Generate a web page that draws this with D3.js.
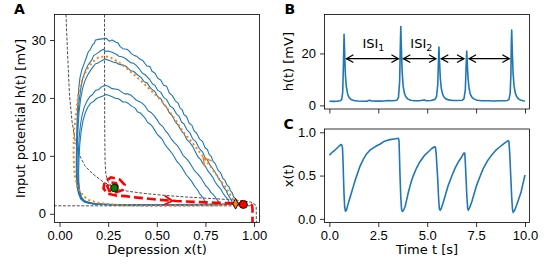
<!DOCTYPE html>
<html>
<head>
<meta charset="utf-8">
<script src="https://cdn.jsdelivr.net/npm/d3@7"></script>
<style>
  body { margin: 0; background: #fff; }
  svg { font-family: "DejaVu Sans", sans-serif; }
  .tick text { font-size: 13px; fill: #000; }
  .tick line { stroke: #000; stroke-width: 0.8; }
</style>
</head>
<body>
<div id="fig"></div>
<script>
// ---- data ----

// panel A: nullclines (dashed)
var nullHyper = [[0.033,34.4],[0.04,28.5],[0.051,20.5],[0.064,16],[0.08,12.6],[0.1,10.3],[0.13,8.3],
  [0.17,6.9],[0.217,5.7],[0.282,4.45],[0.35,3.9],[0.44,3.5],[0.55,3.15],[0.65,2.9],[0.75,2.7],
  [0.85,2.5],[0.93,2.3],[0.98,2.05],[1.003,1.7],[1.011,1.2],[1.012,-1.5]];
var nullVert = [[0.231,34.4],[0.232,15],[0.234,9],[0.238,6.8],[0.25,5.5],[0.265,4.9],[0.282,4.45]];
var nullFlat = [[-0.03,1.38],[0.3,1.38],[0.6,1.38],[0.985,1.38]];

// panel A: stochastic loops (one per spike)
var loop1 = [[0.917,1.7],[0.91,2.1],[0.903,2.7],[0.895,2.9],[0.888,3.6],[0.878,4.0],[0.872,4.6],
  [0.862,4.9],[0.85,5.8],[0.84,6.1],[0.828,7.1],[0.815,7.5],[0.8,8.7],[0.79,9.0],[0.78,9.9],[0.77,10.2],
  [0.76,11.1],[0.748,11.4],[0.735,12.5],[0.72,12.9],[0.705,13.9],[0.692,14.3],[0.68,15.3],[0.667,15.6],
  [0.653,16.8],[0.64,17.1],[0.63,18.0],[0.62,18.2],[0.61,19.1],[0.595,19.5],[0.58,20.4],[0.565,20.8],
  [0.551,22.0],[0.535,22.2],[0.52,23.1],[0.505,23.4],[0.49,24.3],[0.475,24.6],[0.465,25.4],[0.45,25.5],
  [0.44,25.9],[0.43,26.4],[0.42,26.6],[0.405,26.9],[0.397,27.2],[0.385,27.3],[0.37,27.6],[0.355,28.2],
  [0.345,28.4],[0.325,28.5],[0.311,28.9],[0.3,29.5],[0.29,29.6],[0.27,30.0],[0.255,29.8],[0.24,30.3],
  [0.22,30.2],[0.2,30.1],[0.185,30.0],[0.178,29.4],[0.17,29.2],[0.155,28.2],[0.148,28.0],[0.14,27.2],
  [0.125,25.8],[0.115,24.9],[0.105,23.5],[0.098,21.5],[0.093,18.5],[0.089,15],[0.087,11.5],[0.086,8.5],
  [0.087,6.2],[0.091,4.5],[0.098,3.4],[0.11,2.5],[0.13,2.0],[0.17,1.7],[0.25,1.55],[0.4,1.5],
  [0.6,1.52],[0.8,1.58],[0.917,1.7]];
var loop2 = [[0.892,1.7],[0.883,2.3],[0.875,2.8],[0.866,3.3],[0.855,4.1],[0.843,4.6],[0.83,5.6],
  [0.82,5.9],[0.81,6.6],[0.797,7.3],[0.785,7.9],[0.772,8.5],[0.76,9.3],[0.748,9.7],[0.735,10.7],
  [0.718,11.3],[0.7,12.5],[0.685,12.9],[0.67,14.0],[0.655,14.5],[0.64,15.5],[0.628,15.8],[0.615,16.8],
  [0.6,17.3],[0.585,18.2],[0.568,18.6],[0.551,19.7],[0.535,20.1],[0.52,21.0],[0.505,21.3],[0.49,22.2],
  [0.478,22.4],[0.465,23.1],[0.452,23.6],[0.44,24.0],[0.425,24.3],[0.41,25.0],[0.395,25.6],[0.38,26.0],
  [0.365,26.1],[0.35,26.5],[0.335,26.9],[0.32,27.1],[0.305,27.2],[0.294,27.5],[0.27,27.9],[0.25,28.1],
  [0.238,28.0],[0.226,28.4],[0.205,28.0],[0.19,27.6],[0.175,27.3],[0.168,26.7],[0.16,26.3],[0.145,25.6],
  [0.13,24.5],[0.118,23.2],[0.108,21.4],[0.1,19.2],[0.094,16.5],[0.09,13.2],[0.088,10],[0.088,7.2],
  [0.091,5.1],[0.098,3.6],[0.11,2.6],[0.135,1.95],[0.18,1.7],[0.3,1.58],[0.5,1.52],[0.7,1.55],[0.892,1.7]];
var loop3 = [[0.876,1.7],[0.868,2.3],[0.86,2.7],[0.85,3.1],[0.84,3.6],[0.83,4.2],[0.82,4.6],[0.81,5.0],
  [0.8,5.5],[0.788,6.3],[0.775,6.9],[0.763,7.4],[0.75,8.2],[0.738,8.6],[0.725,9.4],[0.712,9.8],
  [0.7,10.6],[0.685,11.6],[0.67,12.3],[0.655,12.8],[0.64,13.8],[0.625,14.4],[0.61,15.3],[0.595,15.9],
  [0.58,16.9],[0.565,17.4],[0.55,18.4],[0.535,18.9],[0.52,19.9],[0.505,20.2],[0.49,21.1],[0.47,21.6],
  [0.45,22.6],[0.435,22.8],[0.42,23.5],[0.4,24.0],[0.38,24.6],[0.365,24.7],[0.35,25.2],[0.335,25.6],
  [0.32,25.7],[0.305,25.8],[0.29,26.1],[0.275,26.2],[0.26,26.4],[0.235,26.7],[0.215,26.4],[0.195,26.0],
  [0.185,25.9],[0.175,25.5],[0.16,24.8],[0.145,24.0],[0.13,22.9],[0.118,21.6],[0.108,19.8],[0.1,17.5],
  [0.095,14.8],[0.091,11.8],[0.09,8.8],[0.091,6.2],[0.095,4.4],[0.104,3.1],[0.12,2.3],[0.15,1.85],
  [0.22,1.6],[0.4,1.52],[0.65,1.55],[0.876,1.7]];
var loop4 = [[0.824,1.7],[0.817,2.1],[0.81,2.4],[0.8,2.9],[0.79,3.3],[0.778,3.7],[0.765,4.4],[0.752,4.8],
  [0.74,5.5],[0.725,6.3],[0.71,6.9],[0.695,7.4],[0.68,8.2],[0.665,9.0],[0.65,9.6],[0.635,10.1],
  [0.62,11.0],[0.605,11.8],[0.59,12.3],[0.575,12.9],[0.56,13.7],[0.545,14.3],[0.53,15.1],[0.515,15.5],
  [0.5,16.3],[0.485,17.0],[0.47,17.5],[0.455,17.8],[0.44,18.6],[0.425,19.1],[0.41,19.4],[0.395,19.6],
  [0.38,20.1],[0.365,20.5],[0.35,20.7],[0.335,20.7],[0.32,21.0],[0.305,21.4],[0.295,21.5],[0.27,21.6],
  [0.25,22.0],[0.234,22.2],[0.215,21.9],[0.2,21.4],[0.185,21.3],[0.17,20.6],[0.155,20.2],[0.14,19.4],
  [0.128,18.5],[0.117,17.2],[0.108,15.5],[0.101,13.3],[0.097,10.8],[0.095,8.2],[0.096,6.0],[0.1,4.3],
  [0.108,3.1],[0.123,2.3],[0.155,1.85],[0.22,1.62],[0.4,1.53],[0.65,1.56],[0.824,1.7]];
var loop5 = [[0.756,1.7],[0.75,2.0],[0.745,2.3],[0.737,2.8],[0.73,3.1],[0.72,3.5],[0.71,4.1],[0.7,4.5],
  [0.69,5.0],[0.677,5.7],[0.665,6.2],[0.652,6.7],[0.64,7.4],[0.627,8.1],[0.615,8.6],[0.602,9.1],
  [0.59,9.8],[0.577,10.5],[0.565,11.0],[0.552,11.5],[0.54,12.1],[0.527,12.9],[0.515,13.3],[0.5,13.8],
  [0.49,14.4],[0.477,15.1],[0.465,15.5],[0.452,15.8],[0.44,16.5],[0.427,17.0],[0.415,17.4],[0.4,17.6],
  [0.39,18.2],[0.375,18.5],[0.365,18.7],[0.352,19.1],[0.34,19.3],[0.325,19.3],[0.315,19.6],[0.3,19.9],
  [0.29,19.9],[0.265,20.3],[0.24,20.6],[0.22,20.3],[0.205,20.1],[0.19,19.9],[0.175,19.4],[0.16,19.1],
  [0.145,18.4],[0.132,17.4],[0.12,16.0],[0.111,14.2],[0.104,12.0],[0.1,9.6],[0.098,7.3],[0.099,5.4],
  [0.103,4.0],[0.112,2.9],[0.13,2.2],[0.17,1.8],[0.25,1.6],[0.45,1.53],[0.756,1.7]];

// panel A: deterministic limit cycle (dotted orange)
var limitCycle = [[0.905,1.73],[0.89,2.6],[0.86,4.3],[0.824,5.9],[0.78,8.0],[0.73,10.2],[0.68,12.4],
  [0.636,14.1],[0.6,16.0],[0.56,17.9],[0.525,19.5],[0.46,21.6],[0.414,23.1],[0.35,25.0],[0.3,26.3],
  [0.26,27.0],[0.234,27.2],[0.2,27.0],[0.17,26.2],[0.14,24.9],[0.12,23.4],[0.106,22.0],[0.095,20.2],
  [0.086,17.5],[0.075,14.5],[0.072,10.5],[0.075,8],[0.08,6.4],[0.09,4.8],[0.106,3.85],[0.125,3.0],
  [0.149,2.4],[0.19,1.95],[0.234,1.73],[0.3,1.5],[0.405,1.4],[0.6,1.42],[0.8,1.5],[0.905,1.73]];

// panel A: trajectory leaving the fixed point (red dashed)
var escapePath = [[0.3,4.6],[0.29,5.3],[0.26,5.4],[0.245,4.8],[0.255,4.0],[0.29,3.7],[0.325,4.1],
  [0.335,5.0],[0.31,5.9],[0.265,6.3],[0.232,5.6],[0.226,4.4],[0.245,3.5],[0.29,3.15],[0.34,3.05],
  [0.4,2.8],[0.5,2.45],[0.6,2.2],[0.7,2.05],[0.8,1.92],[0.9,1.8],[0.945,1.7],[0.975,1.65],
  [0.99,1.45],[0.992,0.8],[0.992,-1.5]];

// arrow heads: [from, tip]
var redArrow = [[0.52,2.4],[0.58,2.22]];
var orangeArrow = [[0.78,8.0],[0.738,9.7]];

// markers
var fixedPoint = [0.282, 4.45];
var redDot = [0.945, 1.62];
var diamondPt = [0.905, 1.73];

// panel B: h(t)
var hSeries = [[0,1.6],[0.2,1.55],[0.4,1.6],[0.55,1.75],[0.63,2.3],[0.68,5],[0.72,16],[0.75,27.4],
  [0.78,20],[0.82,11.5],[0.87,7],[0.93,4.5],[1.0,3.1],[1.1,2.3],[1.25,1.9],[1.45,1.7],[1.7,1.6],
  [1.95,1.65],[2.05,2.0],[2.15,1.7],[2.5,1.65],[2.8,1.7],[3.0,1.85],[3.2,1.75],[3.35,1.9],[3.45,2.0],
  [3.53,3.0],[3.59,9],[3.63,24],[3.65,30.4],[3.68,22],[3.72,13],[3.77,7.5],[3.83,4.8],[3.9,3.4],
  [4.0,2.5],[4.15,2.0],[4.35,1.8],[4.6,1.75],[4.85,2.1],[4.95,1.8],[5.2,1.9],[5.4,2.3],[5.48,3.5],
  [5.54,8],[5.58,18],[5.6,22.5],[5.63,17],[5.67,10.5],[5.72,6.6],[5.78,4.5],[5.85,3.3],[5.95,2.5],
  [6.1,2.1],[6.3,1.9],[6.55,1.85],[6.8,2.0],[6.88,2.6],[6.95,6],[6.99,15],[7.02,20.9],[7.05,16],
  [7.09,10.5],[7.14,6.6],[7.2,4.4],[7.28,3.2],[7.38,2.5],[7.55,2.0],[7.8,1.8],[8.1,1.75],[8.4,1.7],
  [8.7,1.8],[8.95,1.75],[9.1,1.9],[9.18,2.3],[9.24,4.5],[9.28,12],[9.3,24],[9.32,29],[9.35,21],
  [9.39,12.5],[9.44,7.5],[9.5,4.8],[9.58,3.3],[9.68,2.4],[9.8,2.0],[9.9,1.8],[10.0,1.65]];

// ISI arrows (start, end) and labels
var isiArrows = [[0.87,3.53],[3.78,5.45],[5.72,6.88],[7.14,9.2]];
var isiLevel = 18;
var isiLabels = [{t: 2.25, sub: "1"}, {t: 4.7, sub: "2"}];
var isiLabelLevel = 22.2;

// panel C: x(t)
var xSeries = [[0,0.737],[0.15,0.77],[0.29,0.795],[0.46,0.833],[0.58,0.858],[0.63,0.855],[0.67,0.82],
  [0.7,0.65],[0.72,0.48],[0.75,0.28],[0.78,0.14],[0.82,0.089],[0.87,0.1],[0.93,0.15],[1.02,0.22],
  [1.14,0.31],[1.27,0.41],[1.4,0.5],[1.57,0.61],[1.74,0.69],[1.9,0.75],[2.08,0.795],[2.25,0.82],
  [2.42,0.845],[2.6,0.865],[2.76,0.89],[2.93,0.905],[3.1,0.915],[3.3,0.922],[3.47,0.928],[3.53,0.93],
  [3.56,0.9],[3.58,0.75],[3.61,0.5],[3.65,0.25],[3.69,0.11],[3.73,0.085],[3.79,0.1],[3.87,0.14],
  [3.95,0.22],[4.04,0.31],[4.16,0.41],[4.29,0.5],[4.46,0.59],[4.63,0.66],[4.85,0.73],[5.06,0.775],
  [5.22,0.81],[5.37,0.833],[5.42,0.83],[5.46,0.75],[5.5,0.6],[5.54,0.45],[5.58,0.25],[5.62,0.12],
  [5.66,0.1],[5.72,0.12],[5.83,0.197],[5.95,0.29],[6.08,0.39],[6.25,0.49],[6.42,0.583],[6.6,0.66],
  [6.77,0.718],[6.87,0.76],[6.92,0.76],[6.95,0.65],[6.99,0.45],[7.03,0.25],[7.07,0.12],[7.1,0.1],
  [7.17,0.13],[7.28,0.197],[7.4,0.29],[7.53,0.39],[7.7,0.49],[7.87,0.583],[8.08,0.67],[8.3,0.737],
  [8.5,0.79],[8.72,0.833],[8.92,0.87],[9.08,0.895],[9.14,0.903],[9.18,0.89],[9.22,0.75],[9.25,0.6],
  [9.28,0.45],[9.32,0.25],[9.36,0.11],[9.4,0.074],[9.47,0.1],[9.57,0.158],[9.68,0.23],[9.8,0.31],
  [9.9,0.41],[10.0,0.506]];

// tick values
var xTicksA = [0, 0.25, 0.5, 0.75, 1.0];
var yTicksA = [0, 10, 20, 30];
var tTicks = [0, 2.5, 5, 7.5, 10];
var yTicksB = [0, 20];
var yTicksC = [0, 0.5, 1.0];

// ---- figure ----
var blue = "#1f77b4", orange = "#ff7f0e";

var svg = d3.select("#fig").append("svg")
  .attr("width", 548).attr("height", 274);

var xA = d3.scaleLinear().domain([-0.026, 1.028]).range([54.5, 259.5]);
var yA = d3.scaleLinear().domain([-1.5, 34.4]).range([222.5, 14.5]);
var tB = d3.scaleLinear().domain([-0.25, 10.23]).range([324.5, 529.5]);
var yB = d3.scaleLinear().domain([-1.4, 35]).range([109, 14.5]);
var yC = d3.scaleLinear().domain([-0.042, 1.038]).range([222.5, 129]);

// axes helper: ticks + frame
function frame(xs, ys, xt, xfmt, yt, yfmt, showX) {
  var x0 = xs.range()[0], x1 = xs.range()[1], y0 = ys.range()[0], y1 = ys.range()[1];
  var xAxis = d3.axisBottom(xs).tickValues(xt).tickSize(4.5).tickPadding(4).tickSizeOuter(0)
    .tickFormat(showX ? d3.format(xfmt) : "");
  var yAxis = d3.axisLeft(ys).tickValues(yt).tickSize(4.5).tickPadding(4).tickSizeOuter(0)
    .tickFormat(d3.format(yfmt));
  var gx = svg.append("g").attr("transform", "translate(0," + y0 + ")").call(xAxis);
  var gy = svg.append("g").attr("transform", "translate(" + x0 + ",0)").call(yAxis);
  gx.select(".domain").remove();
  gy.select(".domain").remove();
  gx.selectAll("text").attr("font-family", null).attr("font-size", null);
  gy.selectAll("text").attr("font-family", null).attr("font-size", null);
  svg.append("rect")
    .attr("x", x0).attr("y", y1).attr("width", x1 - x0).attr("height", y0 - y1)
    .attr("fill", "none").attr("stroke", "#000").attr("stroke-width", 0.8);
}

function clipFor(id, xs, ys) {
  svg.append("clipPath").attr("id", id).append("rect")
    .attr("x", xs.range()[0]).attr("y", ys.range()[1])
    .attr("width", xs.range()[1] - xs.range()[0]).attr("height", ys.range()[0] - ys.range()[1]);
}

function chevron(g, xs, ys, pair, color, w) {
  var ax = xs(pair[0][0]), ay = ys(pair[0][1]), bx = xs(pair[1][0]), by = ys(pair[1][1]);
  var ang = Math.atan2(by - ay, bx - ax) * 180 / Math.PI;
  g.append("path")
    .attr("d", "M-8,-4.5L0,0L-8,4.5")
    .attr("transform", "translate(" + bx + "," + by + ")rotate(" + ang + ")")
    .attr("fill", "none").attr("stroke", color).attr("stroke-width", w);
}

// ===== Panel A =====
clipFor("clipA", xA, yA);
var gA = svg.append("g").attr("clip-path", "url(#clipA)");
var lineA = d3.line().x(function(d) { return xA(d[0]); }).y(function(d) { return yA(d[1]); });

[nullHyper, nullVert, nullFlat].forEach(function(p) {
  gA.append("path").attr("d", lineA(p)).attr("fill", "none")
    .attr("stroke", "#222").attr("stroke-width", 0.8).attr("stroke-dasharray", "3,1.6");
});

[loop1, loop2, loop3, loop4, loop5].forEach(function(p) {
  gA.append("path").attr("d", lineA(p)).attr("fill", "none")
    .attr("stroke", blue).attr("stroke-width", 1.1).attr("stroke-linejoin", "round");
});

gA.append("path").attr("d", lineA(limitCycle)).attr("fill", "none")
  .attr("stroke", orange).attr("stroke-width", 2).attr("stroke-dasharray", "2,2.8");

gA.append("path").attr("d", lineA(escapePath)).attr("fill", "none")
  .attr("stroke", "#ff0000").attr("stroke-width", 2.6).attr("stroke-dasharray", "9,4");

chevron(gA, xA, yA, redArrow, "#ff0000", 1.8);
chevron(gA, xA, yA, orangeArrow, orange, 1.4);

svg.append("circle").attr("cx", xA(fixedPoint[0])).attr("cy", yA(fixedPoint[1])).attr("r", 3.8)
  .attr("fill", "#008000").attr("stroke", "#000").attr("stroke-width", 0.9);
svg.append("path")
  .attr("d", "M0,-5.3L2.8,0L0,5.3L-2.8,0Z")
  .attr("transform", "translate(" + xA(diamondPt[0]) + "," + yA(diamondPt[1]) + ")")
  .attr("fill", orange).attr("stroke", "#000").attr("stroke-width", 0.9);
svg.append("circle").attr("cx", xA(redDot[0])).attr("cy", yA(redDot[1])).attr("r", 4)
  .attr("fill", "#ff0000").attr("stroke", "#000").attr("stroke-width", 0.9);

frame(xA, yA, xTicksA, ".2f", yTicksA, "d", true);

// ===== Panel B =====
clipFor("clipB", tB, yB);
var gB = svg.append("g").attr("clip-path", "url(#clipB)");
gB.append("path")
  .attr("d", d3.line().x(function(d) { return tB(d[0]); }).y(function(d) { return yB(d[1]); })(hSeries))
  .attr("fill", "none").attr("stroke", blue).attr("stroke-width", 1.6).attr("stroke-linejoin", "round");

isiArrows.forEach(function(a) {
  var xa = tB(a[0]), xb = tB(a[1]), yy = yB(isiLevel);
  svg.append("line").attr("x1", xa).attr("x2", xb).attr("y1", yy).attr("y2", yy)
    .attr("stroke", "#000").attr("stroke-width", 1.2);
  svg.append("path")
    .attr("d", "M" + (xa + 7) + "," + (yy - 3.8) + "L" + xa + "," + yy + "L" + (xa + 7) + "," + (yy + 3.8) +
      "M" + (xb - 7) + "," + (yy - 3.8) + "L" + xb + "," + yy + "L" + (xb - 7) + "," + (yy + 3.8))
    .attr("fill", "none").attr("stroke", "#000").attr("stroke-width", 1.2);
});

isiLabels.forEach(function(l) {
  var t = svg.append("text").attr("x", tB(l.t)).attr("y", yB(isiLabelLevel))
    .attr("text-anchor", "middle").attr("font-size", 13).text("ISI");
  t.append("tspan").attr("font-size", 9.5).attr("dy", 3).text(l.sub);
});

frame(tB, yB, tTicks, ".1f", yTicksB, "d", false);

// ===== Panel C =====
var tC = tB.copy();
clipFor("clipC", tC, yC);
svg.append("g").attr("clip-path", "url(#clipC)").append("path")
  .attr("d", d3.line().x(function(d) { return tC(d[0]); }).y(function(d) { return yC(d[1]); })(xSeries))
  .attr("fill", "none").attr("stroke", blue).attr("stroke-width", 1.6).attr("stroke-linejoin", "round");

frame(tC, yC, tTicks, ".1f", yTicksC, ".1f", true);

// ===== labels =====
svg.append("text").attr("x", 157).attr("y", 254).attr("text-anchor", "middle")
  .attr("font-size", 13).text("Depression x(t)");
svg.append("text").attr("x", 427).attr("y", 254).attr("text-anchor", "middle")
  .attr("font-size", 13).text("Time t [s]");
svg.append("text").attr("transform", "translate(25,118.5)rotate(-90)").attr("text-anchor", "middle")
  .attr("font-size", 13).text("Input potential h(t) [mV]");
svg.append("text").attr("transform", "translate(293,61.7)rotate(-90)").attr("text-anchor", "middle")
  .attr("font-size", 13).text("h(t) [mV]");
svg.append("text").attr("transform", "translate(292.5,175.7)rotate(-90)").attr("text-anchor", "middle")
  .attr("font-size", 13).text("x(t)");

// panel letters
[["A", 14, 13.5], ["B", 284.5, 13.5], ["C", 283.5, 128.5]].forEach(function(p) {
  svg.append("text").attr("x", p[1]).attr("y", p[2]).attr("font-size", 14)
    .attr("font-weight", "bold").text(p[0]);
});
</script>
</body>
</html>
